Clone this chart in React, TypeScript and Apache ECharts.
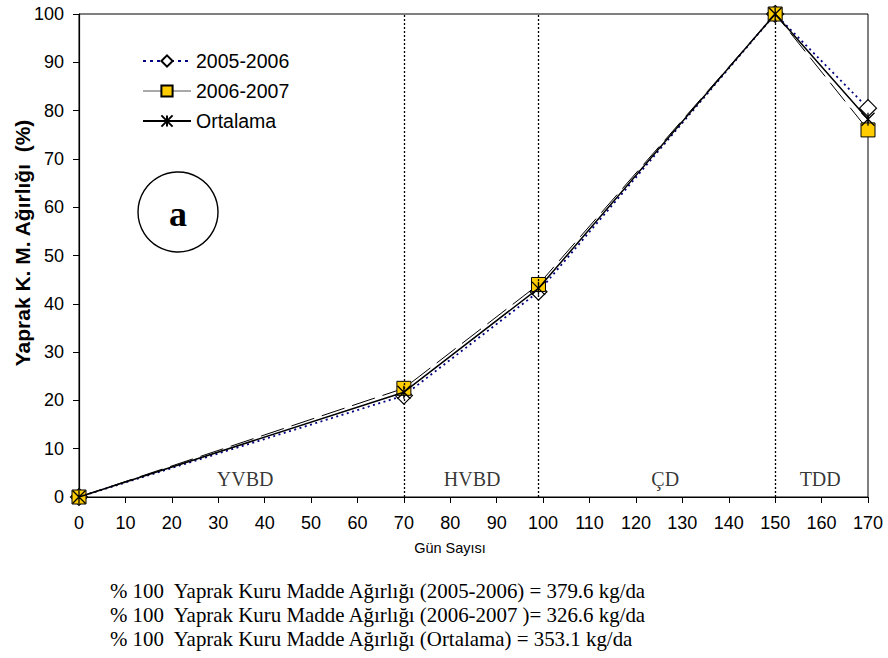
import React, { useEffect, useRef } from "react";
import * as echarts from "echarts";

// Days after sowing at which samples were taken
const days = [0, 70, 99, 150, 170];
// Leaf dry matter weight, % of maximum
const season0506 = [0, 21, 42.5, 100, 80.5];
const season0607 = [0, 22.5, 44, 100, 76];
const average = [0, 21.7, 43.2, 100, 78.2];

// Growth stage boundaries and names
const stageBounds = [70, 99, 150];
const stageNames = ["YVBD", "HVBD", "ÇD", "TDD"];
const stageCenters = [35.8, 84.7, 126.3, 159.7];

const footnotes = [
  "% 100  Yaprak Kuru Madde Ağırlığı (2005-2006) = 379.6 kg/da",
  "% 100  Yaprak Kuru Madde Ağırlığı (2006-2007 )= 326.6 kg/da",
  "% 100  Yaprak Kuru Madde Ağırlığı (Ortalama) = 353.1 kg/da",
];

const pair = (ys: number[]) => days.map((d, i) => [d, ys[i]]);

const asterisk = "path://M5,0L5,10M0,0L10,10M0,10L10,0";

export default function App() {
  const ref = useRef<HTMLDivElement>(null);

  useEffect(() => {
    if (!ref.current) return;
    const chart = echarts.init(ref.current, null, { renderer: "svg" });
    const sans = "Liberation Sans, Arial, sans-serif";
    const serif = "Liberation Serif, Times New Roman, serif";

    chart.setOption({
      animation: false,
      backgroundColor: "#fff",
      grid: {
        left: 79,
        right: 20,
        top: 14,
        bottom: 161,
        show: true,
        borderColor: "#000",
        borderWidth: 1,
      },
      legend: {
        left: 137,
        top: 46,
        orient: "vertical",
        itemWidth: 48,
        itemHeight: 14,
        itemGap: 10,
        textStyle: {
          fontFamily: sans,
          fontSize: 19.5,
          lineHeight: 20,
          color: "#000",
        },
        data: [
          {
            name: "2005-2006",
            lineStyle: { color: "#000080", width: 2, type: [3, 4] },
          },
          {
            name: "2006-2007",
            lineStyle: { color: "#555", width: 1, type: "solid" },
          },
          { name: "Ortalama" },
        ],
      },
      xAxis: {
        type: "value",
        min: 0,
        max: 170,
        interval: 10,
        axisLine: { onZero: false, lineStyle: { color: "#000", width: 1.2 } },
        axisTick: { inside: false, length: 6, lineStyle: { color: "#000" } },
        axisLabel: {
          fontFamily: sans,
          fontSize: 18,
          color: "#000",
          margin: 17,
        },
        splitLine: { show: false },
      },
      yAxis: {
        type: "value",
        min: 0,
        max: 100,
        interval: 10,
        axisLine: { lineStyle: { color: "#000", width: 1.2 } },
        axisTick: { inside: false, length: 6, lineStyle: { color: "#000" } },
        axisLabel: { fontFamily: sans, fontSize: 18, color: "#000", margin: 15 },
        splitLine: { show: false },
      },
      series: [
        {
          name: "stages",
          type: "scatter",
          symbolSize: 0,
          silent: true,
          data: stageCenters.map((c, i) => ({ value: [c, 3.7], name: stageNames[i] })),
          label: {
            show: true,
            position: "inside",
            formatter: (p: any) => p.name,
            fontFamily: serif,
            fontSize: 20,
            color: "#000",
          },
          markLine: {
            silent: true,
            symbol: "none",
            label: { show: false },
            lineStyle: { type: [2, 2], color: "#000", width: 1.3 },
            data: stageBounds.map((b) => [
              { coord: [b, 0] },
              { coord: [b, 100] },
            ]),
          },
          z: 1,
        },
        {
          name: "2006-2007",
          type: "line",
          data: pair(season0607),
          symbol: "rect",
          symbolSize: 14,
          lineStyle: { color: "#000", width: 1, type: [24, 8] },
          itemStyle: { color: "#FFCC00", borderColor: "#000", borderWidth: 1 },
          z: 3,
        },
        {
          name: "2005-2006",
          type: "line",
          data: pair(season0506),
          symbol: "diamond",
          symbolSize: 17,
          lineStyle: { color: "#000080", width: 1.8, type: [2, 3.5] },
          itemStyle: { color: "#fff", borderColor: "#000", borderWidth: 1.2 },
          z: 2,
        },
        {
          name: "Ortalama",
          type: "line",
          data: pair(average),
          symbol: asterisk,
          symbolSize: 13,
          lineStyle: { color: "#000", width: 1.5 },
          itemStyle: { color: "#000", borderColor: "#000", borderWidth: 1.3 },
          z: 4,
        },
      ],
      graphic: [
        {
          type: "text",
          x: 22,
          y: 243,
          rotation: Math.PI / 2,
          style: {
            text: "Yaprak K. M. Ağırlığı  (%)",
            fontFamily: sans,
            fontSize: 21,
            fontWeight: "bold",
            fill: "#000",
            align: "center",
            verticalAlign: "middle",
          },
        },
        {
          type: "text",
          x: 450,
          y: 548,
          style: {
            text: "Gün Sayısı",
            fontFamily: sans,
            fontSize: 14.5,
            fill: "#000",
            align: "center",
            verticalAlign: "middle",
          },
        },
        {
          type: "circle",
          shape: { cx: 178, cy: 212, r: 40 },
          style: { fill: "#fff", stroke: "#000", lineWidth: 1.4 },
          z: 10,
        },
        {
          type: "text",
          x: 178,
          y: 214,
          style: {
            text: "a",
            fontFamily: serif,
            fontSize: 36,
            fontWeight: "bold",
            fill: "#000",
            align: "center",
            verticalAlign: "middle",
          },
          z: 11,
        },
        ...footnotes.map((t, i) => ({
          type: "text",
          left: 110,
          top: 580 + i * 24,
          style: {
            text: t,
            fontFamily: serif,
            fontSize: 20.9,
            fill: "#000",
          },
        })),
      ],
    });

    return () => chart.dispose();
  }, []);

  return (
    <div
      ref={ref}
      style={{ position: "absolute", left: 0, top: 0, width: 888, height: 658 }}
    />
  );
}
